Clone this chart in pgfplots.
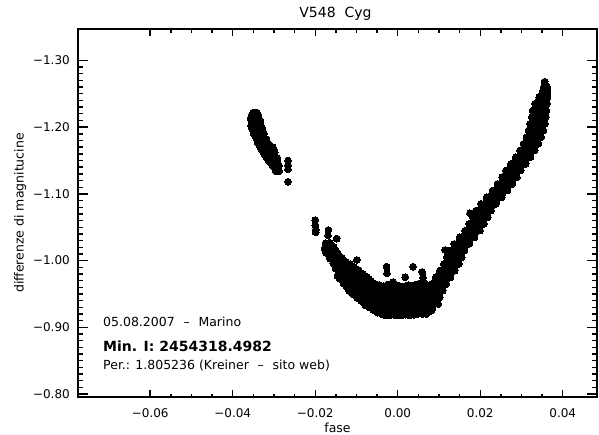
\documentclass[border=0pt]{standalone}
\usepackage{fontspec}
\setmainfont{DejaVu Sans}
\usepackage{pgfplots}
\pgfplotsset{compat=1.18}
\begin{document}
\begin{tikzpicture}
\path[use as bounding box] (0,0) rectangle (599bp,435bp);
\pgfplotsset{
  common/.style={
    scale only axis, width=519bp, height=368bp,
    at={(78bp,38bp)}, anchor=south west,
    xmin=-0.0775, xmax=0.0483, ymin=-1.347, ymax=-0.7957,
    y dir=reverse, scaled ticks=false,
    axis line style={line width=1.8bp, black},
    tick style={line width=1.4bp, black},
    tick align=inside,
  },
  dots/.style={only marks, mark=*, mark size=3.4bp, mark options={fill=black, draw=black, line width=0pt}},
}
\begin{axis}[common,
  xtick={-0.06,-0.04,-0.02,0,0.02,0.04},
  xticklabels={−0.06,−0.04,−0.02,0.00,0.02,0.04},
  minor x tick num=3,
  major tick length=7bp, minor tick length=3.5bp,
  ytick=\empty,
  xticklabel style={font=\fontsize{12bp}{14bp}\selectfont, anchor=base, yshift=-20bp},
  title={V548\ \ Cyg},
  title style={at={(axis description cs:0.4961,1.0155)}, anchor=base, inner sep=0pt, font=\fontsize{14bp}{16bp}\selectfont},
  xlabel={fase},
  xlabel style={at={(axis description cs:0.5,-0.0978)}, anchor=base, inner sep=0pt, font=\fontsize{12.5bp}{15bp}\selectfont},
  ylabel={differenze di magnitucine},
  ylabel style={at={(axis description cs:-0.105,0.5)}, anchor=base, inner sep=0pt, font=\fontsize{12.5bp}{15bp}\selectfont},
]
% left cluster
\addplot[dots] coordinates {
(-0.0350,-1.222) (-0.0342,-1.222)
(-0.0354,-1.218) (-0.0346,-1.218) (-0.0338,-1.218)
(-0.0356,-1.214) (-0.0349,-1.214) (-0.0340,-1.214)
(-0.0355,-1.210) (-0.0347,-1.210) (-0.0338,-1.210) (-0.0333,-1.210)
(-0.0354,-1.206) (-0.0345,-1.206) (-0.0336,-1.206)
(-0.0355,-1.202) (-0.0348,-1.202) (-0.0340,-1.202) (-0.0332,-1.202)
(-0.0353,-1.198) (-0.0344,-1.198) (-0.0335,-1.198) (-0.0328,-1.198)
(-0.0350,-1.194) (-0.0342,-1.194) (-0.0333,-1.194)
(-0.0349,-1.190) (-0.0340,-1.190) (-0.0330,-1.190) (-0.0324,-1.190)
(-0.0345,-1.186) (-0.0336,-1.186) (-0.0327,-1.186)
(-0.0342,-1.182) (-0.0334,-1.182) (-0.0325,-1.182) (-0.0318,-1.182)
(-0.0340,-1.178) (-0.0331,-1.178) (-0.0322,-1.178)
(-0.0336,-1.174) (-0.0328,-1.174) (-0.0319,-1.174) (-0.0312,-1.174)
(-0.0333,-1.170) (-0.0325,-1.170) (-0.0316,-1.170) (-0.0303,-1.170)
(-0.0330,-1.166) (-0.0321,-1.166) (-0.0312,-1.166) (-0.0300,-1.166)
(-0.0326,-1.162) (-0.0317,-1.162) (-0.0308,-1.162) (-0.0298,-1.162)
(-0.0322,-1.158) (-0.0313,-1.158) (-0.0304,-1.158)
(-0.0318,-1.154) (-0.0309,-1.154) (-0.0300,-1.154) (-0.0292,-1.154)
(-0.0313,-1.150) (-0.0305,-1.150) (-0.0296,-1.150) (-0.0266,-1.150)
(-0.0308,-1.146) (-0.0300,-1.146) (-0.0291,-1.146)
(-0.0303,-1.142) (-0.0295,-1.142) (-0.0288,-1.142) (-0.0266,-1.143)
(-0.0298,-1.138) (-0.0290,-1.138) (-0.0266,-1.137)
(-0.0295,-1.134) (-0.0287,-1.134)
(-0.0266,-1.118)
};
% main minimum
\addplot[dots] coordinates {
(-0.0200,-1.0605) (-0.0200,-1.0530) (-0.0199,-1.0460) (-0.0199,-1.0425)
(-0.0168,-1.046) (-0.0169,-1.038) (-0.0148,-1.033) (-0.0099,-1.001)
(-0.0027,-0.991) (-0.0026,-0.981) (0.0018,-0.975) (0.0037,-0.991) (0.0059,-0.983) (0.0061,-0.975) (-0.0011,-0.968)
(0.0115,-1.016) (0.0175,-1.071)
(-0.0175,-1.026) (-0.0177,-1.018) (-0.0174,-1.012)
(-0.0170,-1.022) (-0.0168,-1.014)
(-0.0165,-1.027) (-0.0163,-1.017) (-0.0166,-1.009) (-0.0164,-1.003)
(-0.0160,-1.022) (-0.0161,-1.013) (-0.0159,-1.002)
(-0.0155,-1.020) (-0.0157,-1.012) (-0.0153,-1.004) (-0.0156,-0.996)
(-0.0150,-1.015) (-0.0151,-1.006) (-0.0149,-0.997) (-0.0151,-0.988)
(-0.0145,-1.010) (-0.0143,-1.001) (-0.0147,-0.993) (-0.0144,-0.984) (-0.0146,-0.977)
(-0.0140,-1.006) (-0.0141,-0.997) (-0.0139,-0.988) (-0.0140,-0.980) (-0.0141,-0.973)
(-0.0135,-1.004) (-0.0137,-0.995) (-0.0134,-0.987) (-0.0136,-0.978) (-0.0133,-0.970)
(-0.0130,-0.999) (-0.0131,-0.991) (-0.0129,-0.982) (-0.0130,-0.974) (-0.0131,-0.966)
(-0.0125,-0.998) (-0.0123,-0.990) (-0.0127,-0.981) (-0.0124,-0.972) (-0.0126,-0.963)
(-0.0120,-0.994) (-0.0121,-0.985) (-0.0119,-0.976) (-0.0120,-0.967) (-0.0121,-0.959)
(-0.0115,-0.995) (-0.0117,-0.986) (-0.0113,-0.977) (-0.0116,-0.968) (-0.0114,-0.960) (-0.0118,-0.955)
(-0.0110,-0.991) (-0.0111,-0.982) (-0.0109,-0.973) (-0.0110,-0.964) (-0.0111,-0.955) (-0.0109,-0.950)
(-0.0105,-0.990) (-0.0103,-0.981) (-0.0107,-0.972) (-0.0104,-0.963) (-0.0106,-0.955) (-0.0102,-0.949)
(-0.0100,-0.986) (-0.0101,-0.977) (-0.0099,-0.968) (-0.0100,-0.959) (-0.0101,-0.950) (-0.0099,-0.945)
(-0.0095,-0.986) (-0.0097,-0.977) (-0.0093,-0.968) (-0.0096,-0.960) (-0.0094,-0.951) (-0.0098,-0.944)
(-0.0090,-0.982) (-0.0091,-0.973) (-0.0089,-0.964) (-0.0090,-0.956) (-0.0091,-0.947) (-0.0089,-0.940)
(-0.0085,-0.980) (-0.0083,-0.972) (-0.0087,-0.963) (-0.0084,-0.954) (-0.0086,-0.945) (-0.0082,-0.937)
(-0.0080,-0.977) (-0.0081,-0.968) (-0.0079,-0.959) (-0.0080,-0.950) (-0.0081,-0.942) (-0.0079,-0.935)
(-0.0075,-0.975) (-0.0077,-0.966) (-0.0073,-0.957) (-0.0076,-0.948) (-0.0074,-0.940) (-0.0078,-0.933)
(-0.0070,-0.972) (-0.0071,-0.963) (-0.0069,-0.954) (-0.0070,-0.945) (-0.0071,-0.937) (-0.0069,-0.930)
(-0.0065,-0.969) (-0.0063,-0.960) (-0.0067,-0.951) (-0.0064,-0.943) (-0.0066,-0.935) (-0.0062,-0.929)
(-0.0060,-0.967) (-0.0061,-0.958) (-0.0059,-0.949) (-0.0060,-0.941) (-0.0061,-0.933) (-0.0059,-0.926)
(-0.0055,-0.965) (-0.0057,-0.956) (-0.0053,-0.948) (-0.0056,-0.940) (-0.0054,-0.932) (-0.0058,-0.927)
(-0.0050,-0.964) (-0.0051,-0.955) (-0.0049,-0.946) (-0.0050,-0.938) (-0.0051,-0.929) (-0.0049,-0.922)
(-0.0045,-0.963) (-0.0043,-0.955) (-0.0047,-0.946) (-0.0044,-0.938) (-0.0046,-0.930) (-0.0042,-0.923)
(-0.0040,-0.961) (-0.0041,-0.952) (-0.0039,-0.943) (-0.0040,-0.934) (-0.0041,-0.926) (-0.0039,-0.920)
(-0.0035,-0.962) (-0.0037,-0.953) (-0.0033,-0.945) (-0.0036,-0.936) (-0.0034,-0.928) (-0.0038,-0.921)
(-0.0030,-0.960) (-0.0031,-0.951) (-0.0029,-0.942) (-0.0030,-0.933) (-0.0031,-0.925) (-0.0029,-0.918)
(-0.0025,-0.964) (-0.0023,-0.955) (-0.0027,-0.947) (-0.0024,-0.938) (-0.0026,-0.929) (-0.0022,-0.920)
(-0.0020,-0.962) (-0.0021,-0.953) (-0.0019,-0.944) (-0.0020,-0.935) (-0.0021,-0.926) (-0.0019,-0.918)
(-0.0015,-0.961) (-0.0017,-0.952) (-0.0013,-0.944) (-0.0016,-0.935) (-0.0014,-0.927) (-0.0018,-0.920)
(-0.0010,-0.959) (-0.0011,-0.950) (-0.0009,-0.941) (-0.0010,-0.932) (-0.0011,-0.924) (-0.0009,-0.919)
(-0.0005,-0.963) (-0.0003,-0.954) (-0.0007,-0.945) (-0.0004,-0.937) (-0.0006,-0.928) (-0.0002,-0.921)
(0.0000,-0.961) (0.0001,-0.952) (-0.0001,-0.943) (0.0000,-0.934) (0.0001,-0.925) (-0.0001,-0.918)
(0.0005,-0.962) (0.0007,-0.953) (0.0003,-0.944) (0.0006,-0.936) (0.0004,-0.927) (0.0008,-0.920)
(0.0010,-0.959) (0.0011,-0.950) (0.0009,-0.941) (0.0010,-0.932) (0.0011,-0.924) (0.0009,-0.918)
(0.0015,-0.960) (0.0013,-0.951) (0.0017,-0.943) (0.0014,-0.934) (0.0016,-0.926) (0.0012,-0.920)
(0.0020,-0.962) (0.0021,-0.953) (0.0019,-0.944) (0.0020,-0.935) (0.0021,-0.927) (0.0019,-0.919)
(0.0025,-0.963) (0.0027,-0.954) (0.0023,-0.946) (0.0026,-0.937) (0.0024,-0.929) (0.0028,-0.921)
(0.0030,-0.960) (0.0031,-0.951) (0.0029,-0.942) (0.0030,-0.933) (0.0031,-0.925) (0.0029,-0.918)
(0.0035,-0.962) (0.0033,-0.953) (0.0037,-0.944) (0.0034,-0.935) (0.0036,-0.927) (0.0032,-0.921)
(0.0040,-0.963) (0.0041,-0.954) (0.0039,-0.945) (0.0040,-0.936) (0.0041,-0.927) (0.0039,-0.919)
(0.0045,-0.964) (0.0047,-0.955) (0.0043,-0.946) (0.0046,-0.937) (0.0044,-0.929) (0.0048,-0.922)
(0.0050,-0.965) (0.0051,-0.956) (0.0049,-0.947) (0.0050,-0.938) (0.0051,-0.929) (0.0049,-0.920)
(0.0055,-0.966) (0.0053,-0.957) (0.0057,-0.948) (0.0054,-0.939) (0.0056,-0.930) (0.0052,-0.922)
(0.0060,-0.967) (0.0061,-0.958) (0.0059,-0.949) (0.0060,-0.940) (0.0061,-0.931) (0.0059,-0.920)
(0.0065,-0.966) (0.0067,-0.957) (0.0063,-0.948) (0.0066,-0.939) (0.0064,-0.931) (0.0068,-0.923)
(0.0070,-0.964) (0.0071,-0.955) (0.0069,-0.946) (0.0070,-0.937) (0.0071,-0.928) (0.0069,-0.920)
(0.0075,-0.962) (0.0073,-0.953) (0.0077,-0.944) (0.0074,-0.935) (0.0076,-0.927) (0.0072,-0.924)
(0.0080,-0.960) (0.0081,-0.951) (0.0079,-0.942) (0.0080,-0.933) (0.0081,-0.925)
(0.0085,-0.958) (0.0087,-0.950) (0.0083,-0.942) (0.0086,-0.934) (0.0084,-0.928)
(0.0062,-0.935) (0.0074,-0.935) (0.0086,-0.935) (0.0098,-0.935)
(0.0070,-0.940) (0.0082,-0.940) (0.0094,-0.940)
(0.0066,-0.945) (0.0078,-0.945) (0.0090,-0.945) (0.0102,-0.945)
(0.0075,-0.950) (0.0087,-0.950) (0.0099,-0.950)
(0.0073,-0.955) (0.0085,-0.955) (0.0097,-0.955) (0.0109,-0.955)
(0.0083,-0.960) (0.0095,-0.960) (0.0107,-0.960)
(0.0082,-0.965) (0.0094,-0.965) (0.0106,-0.965) (0.0118,-0.965)
(0.0093,-0.970) (0.0105,-0.970) (0.0117,-0.970)
(0.0092,-0.975) (0.0104,-0.975) (0.0116,-0.975) (0.0128,-0.975)
(0.0103,-0.980) (0.0115,-0.980) (0.0127,-0.980)
(0.0102,-0.985) (0.0114,-0.985) (0.0126,-0.985) (0.0138,-0.985)
(0.0113,-0.990) (0.0125,-0.990) (0.0137,-0.990)
(0.0112,-0.995) (0.0124,-0.995) (0.0136,-0.995) (0.0148,-0.995)
(0.0122,-1.000) (0.0134,-1.000) (0.0146,-1.000)
(0.0119,-1.005) (0.0131,-1.005) (0.0143,-1.005) (0.0155,-1.005)
(0.0129,-1.010) (0.0141,-1.010) (0.0153,-1.010)
(0.0126,-1.015) (0.0138,-1.015) (0.0150,-1.015) (0.0162,-1.015)
(0.0138,-1.020) (0.0150,-1.020) (0.0162,-1.020)
(0.0137,-1.025) (0.0149,-1.025) (0.0161,-1.025) (0.0173,-1.025)
(0.0150,-1.030) (0.0162,-1.030) (0.0174,-1.030)
(0.0150,-1.035) (0.0162,-1.035) (0.0174,-1.035) (0.0186,-1.035)
(0.0163,-1.040) (0.0175,-1.040) (0.0187,-1.040)
(0.0163,-1.045) (0.0175,-1.045) (0.0187,-1.045) (0.0199,-1.045)
(0.0175,-1.050) (0.0187,-1.050) (0.0199,-1.050)
(0.0173,-1.055) (0.0185,-1.055) (0.0197,-1.055) (0.0209,-1.055)
(0.0184,-1.060) (0.0196,-1.060) (0.0208,-1.060)
(0.0182,-1.065) (0.0194,-1.065) (0.0206,-1.065) (0.0218,-1.065)
(0.0192,-1.070) (0.0204,-1.070) (0.0216,-1.070)
(0.0190,-1.075) (0.0202,-1.075) (0.0214,-1.075) (0.0226,-1.075)
(0.0202,-1.080) (0.0214,-1.080) (0.0226,-1.080)
(0.0202,-1.085) (0.0214,-1.085) (0.0226,-1.085) (0.0238,-1.085)
(0.0215,-1.090) (0.0227,-1.090) (0.0239,-1.090)
(0.0216,-1.095) (0.0228,-1.095) (0.0240,-1.095) (0.0252,-1.095)
(0.0229,-1.100) (0.0241,-1.100) (0.0253,-1.100)
(0.0230,-1.105) (0.0242,-1.105) (0.0254,-1.105) (0.0266,-1.105)
(0.0242,-1.110) (0.0254,-1.110) (0.0266,-1.110)
(0.0242,-1.115) (0.0254,-1.115) (0.0266,-1.115) (0.0278,-1.115)
(0.0254,-1.120) (0.0266,-1.120) (0.0278,-1.120)
(0.0253,-1.125) (0.0265,-1.125) (0.0277,-1.125) (0.0289,-1.125)
(0.0263,-1.130) (0.0275,-1.130) (0.0287,-1.130)
(0.0262,-1.135) (0.0274,-1.135) (0.0286,-1.135) (0.0298,-1.135)
(0.0274,-1.140) (0.0286,-1.140) (0.0298,-1.140)
(0.0274,-1.145) (0.0286,-1.145) (0.0298,-1.145) (0.0310,-1.145)
(0.0286,-1.150) (0.0298,-1.150) (0.0310,-1.150)
(0.0286,-1.155) (0.0298,-1.155) (0.0310,-1.155) (0.0322,-1.155)
(0.0298,-1.160) (0.0310,-1.160) (0.0322,-1.160)
(0.0296,-1.165) (0.0308,-1.165) (0.0320,-1.165) (0.0332,-1.165)
(0.0306,-1.170) (0.0318,-1.170) (0.0330,-1.170)
(0.0305,-1.175) (0.0317,-1.175) (0.0329,-1.175) (0.0341,-1.175)
(0.0315,-1.180) (0.0327,-1.180) (0.0339,-1.180)
(0.0312,-1.185) (0.0324,-1.185) (0.0336,-1.185) (0.0348,-1.185)
(0.0321,-1.190) (0.0333,-1.190) (0.0345,-1.190)
(0.0317,-1.195) (0.0329,-1.195) (0.0341,-1.195) (0.0353,-1.195)
(0.0325,-1.200) (0.0337,-1.200) (0.0349,-1.200)
(0.0321,-1.205) (0.0333,-1.205) (0.0345,-1.205) (0.0357,-1.205)
(0.0328,-1.210) (0.0340,-1.210) (0.0352,-1.210)
(0.0325,-1.215) (0.0337,-1.215) (0.0349,-1.215) (0.0359,-1.215)
(0.0330,-1.220) (0.0342,-1.220) (0.0354,-1.220)
(0.0327,-1.225) (0.0339,-1.225) (0.0351,-1.225) (0.0360,-1.225)
(0.0335,-1.230) (0.0346,-1.230) (0.0357,-1.230)
(0.0333,-1.235) (0.0344,-1.235) (0.0355,-1.235) (0.0362,-1.235)
(0.0341,-1.240) (0.0351,-1.240) (0.0360,-1.240)
(0.0343,-1.245) (0.0353,-1.245) (0.0363,-1.245)
(0.0350,-1.250) (0.0362,-1.250)
(0.0353,-1.255) (0.0363,-1.255)
(0.0354,-1.260) (0.0362,-1.260)
(0.0357,-1.265) (0.0356,-1.268)
};
\node[anchor=base west, inner sep=0pt, font=\fontsize{12.5bp}{15bp}\selectfont] at (axis description cs:0.0482,0.191) {05.08.2007\hspace{0.7em}–\hspace{0.7em}Marino};
\node[anchor=base west, inner sep=0pt, font=\fontsize{14bp}{16bp}\selectfont\bfseries] at (axis description cs:0.0482,0.1223) {Min. I: 2454318.4982};
\node[anchor=base west, inner sep=0pt, font=\fontsize{12.5bp}{15bp}\selectfont] at (axis description cs:0.0482,0.0761) {Per.: 1.805236 (Kreiner\hspace{0.7em}–\hspace{0.7em}sito web)};
\end{axis}
\begin{axis}[common,
  xtick=\empty,
  ytick={-1.3,-1.2,-1.1,-1.0,-0.9,-0.8},
  yticklabels={−1.30,−1.20,−1.10,−1.00,−0.90,−0.80},
  minor y tick num=9,
  major tick length=10bp, minor tick length=5bp,
  yticklabel style={font=\fontsize{12bp}{14bp}\selectfont, anchor=east, inner sep=0pt, xshift=-8bp},
]
\end{axis}
\end{tikzpicture}
\end{document}
